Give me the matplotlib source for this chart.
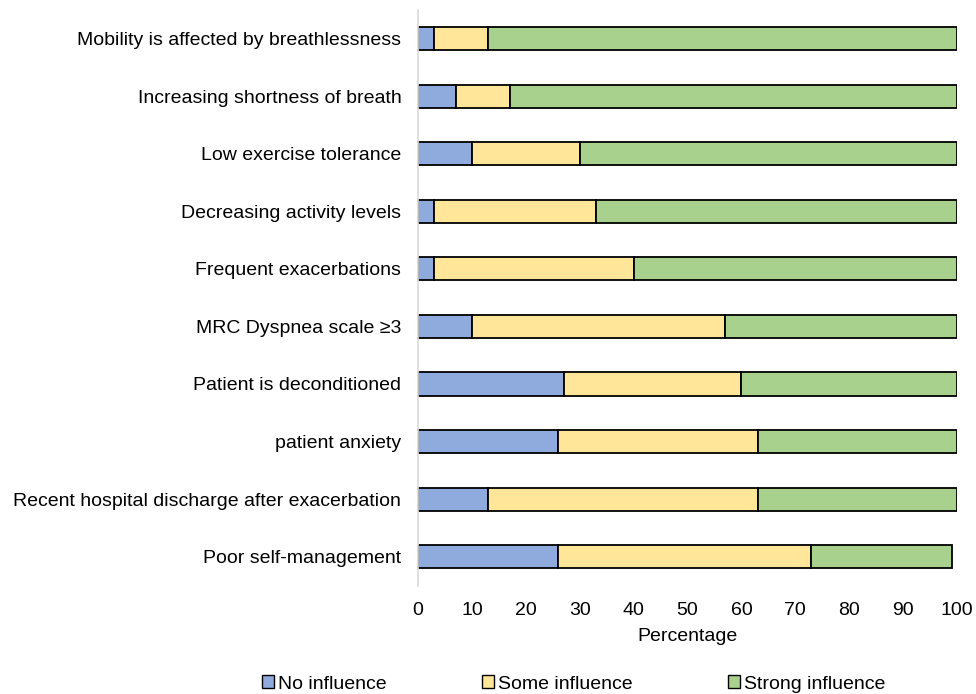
import matplotlib
matplotlib.use("Agg")
import matplotlib.pyplot as plt
from matplotlib.patches import Patch

plt.rcParams['font.family'] = ['Liberation Sans', 'DejaVu Sans']

categories = [
    "Mobility is affected by breathlessness",
    "Increasing shortness of breath",
    "Low exercise tolerance",
    "Decreasing activity levels",
    "Frequent exacerbations",
    "MRC Dyspnea scale \u22653",
    "Patient is deconditioned",
    "patient anxiety",
    "Recent hospital discharge after exacerbation",
    "Poor self-management",
]
no_influence = [3, 7, 10, 3, 3, 10, 27, 26, 13, 26]
some_influence = [10, 10, 20, 30, 37, 47, 33, 37, 50, 47]
strong_influence = [87, 83, 70, 67, 60, 43, 40, 37, 37, 26]
series_names = ["No influence", "Some influence", "Strong influence"]
colors = ["#8FAADC", "#FFE699", "#A9D18E"]

FS = 14

fig = plt.figure(figsize=(9.76, 6.94), dpi=100)
ax = fig.add_axes([0.4283, 0.1563, 0.5522, 0.8297])

y = list(range(len(categories)))
left = [0] * len(categories)
for vals, c in zip([no_influence, some_influence, strong_influence], colors):
    ax.barh(y, vals, left=left, height=0.4, color=c, edgecolor='black', linewidth=1.3)
    left = [l + v for l, v in zip(left, vals)]

ax.set_ylim(len(categories) - 0.5, -0.5)
ax.set_xlim(0, 100)
ax.set_xticks(range(0, 101, 10))
ax.set_yticks(y)
ax.set_yticklabels(categories, fontsize=FS)
ax.tick_params(axis='both', length=0, labelsize=FS)
ax.tick_params(axis='y', pad=12)
ax.tick_params(axis='x', pad=11.5)
for s in ['top', 'right', 'bottom']:
    ax.spines[s].set_visible(False)
ax.spines['left'].set_color('#D9D9D9')
ax.spines['left'].set_linewidth(1.2)
ax.set_xlabel("Percentage", fontsize=FS, labelpad=7)

handles = [Patch(facecolor=c, edgecolor='black', linewidth=1) for c in colors]
fig.legend(handles, series_names, loc='center', bbox_to_anchor=(0.588, 0.0145),
           ncol=3, frameon=False, fontsize=FS, handlelength=0.62, handleheight=0.62,
           handletextpad=0.2, columnspacing=4.9, borderpad=0, borderaxespad=0)

fig.savefig("out.png", dpi=100)
